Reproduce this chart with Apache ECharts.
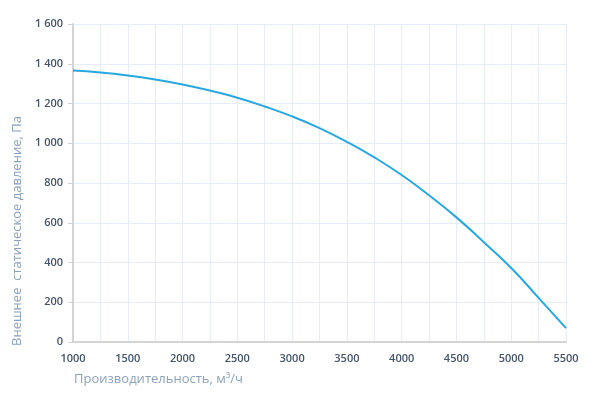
<!DOCTYPE html>
<html>
<head>
<meta charset="utf-8">
<script src="https://cdn.jsdelivr.net/npm/echarts@6/dist/echarts.min.js"></script>
<style>
  html, body { margin: 0; padding: 0; background: #fff; }
  #chart { width: 595px; height: 405px; }
</style>
</head>
<body>
<div id="chart"></div>
<script>
// airflow, m3/h
const flow = [1000, 1250, 1500, 1750, 2000, 2250, 2500, 2750, 3000, 3250,
  3500, 3750, 4000, 4250, 4500, 4750, 5000, 5250, 5500];
// external static pressure, Pa
const pressure = [1366, 1356, 1341, 1321, 1296, 1265, 1229, 1185, 1135, 1076,
  1007, 929, 840, 738, 627, 502, 372, 222, 70];

const xTitle = 'Производительность, м³/ч';
const yTitle = 'Внешнее  статическое давление, Па';

const chart = echarts.init(document.getElementById('chart'));

const fmtThousands = (v) => String(v).replace(/\B(?=(\d{3})+(?!\d))/g, ' ');

chart.setOption({
  animation: false,
  textStyle: { fontFamily: 'Open Sans' },
  grid: { left: 73, right: 29, top: 24, bottom: 63, outerBoundsMode: 'none' },
  xAxis: {
    type: 'value',
    min: 1000,
    max: 5500,
    interval: 250,
    name: xTitle,
    nameLocation: 'middle',
    nameGap: 31,
    nameTextStyle: { color: '#8ca2bc', fontSize: 13, padding: [0, 322, 0, 0] },
    axisLine: { lineStyle: { color: '#d4d4d4', width: 2 } },
    axisTick: { show: false },
    axisLabel: {
      color: '#44546a',
      fontSize: 11,
      fontWeight: 600,
      margin: 11,
      formatter: (v) => (v % 500 === 0 ? String(v) : '')
    },
    splitLine: { lineStyle: { color: '#e6edf6', width: 1 } }
  },
  yAxis: {
    type: 'value',
    min: 0,
    max: 1600,
    interval: 200,
    name: yTitle,
    nameLocation: 'middle',
    nameGap: 31,
    nameTextStyle: { color: '#8ca2bc', fontSize: 13, padding: [0, 96, 0, 0] },
    axisLine: { show: true, lineStyle: { color: '#d4d4d4', width: 2 } },
    axisTick: { show: true, length: 5, lineStyle: { color: '#d4d4d4' } },
    axisLabel: {
      color: '#44546a',
      fontSize: 11,
      fontWeight: 600,
      margin: 10,
      formatter: fmtThousands
    },
    splitLine: { lineStyle: { color: '#e6edf6', width: 1 } }
  },
  series: [{
    type: 'line',
    data: flow.map((x, i) => [x, pressure[i]]),
    smooth: true,
    showSymbol: false,
    lineStyle: { color: '#29a8e0', width: 2 }
  }]
});
</script>
</body>
</html>
